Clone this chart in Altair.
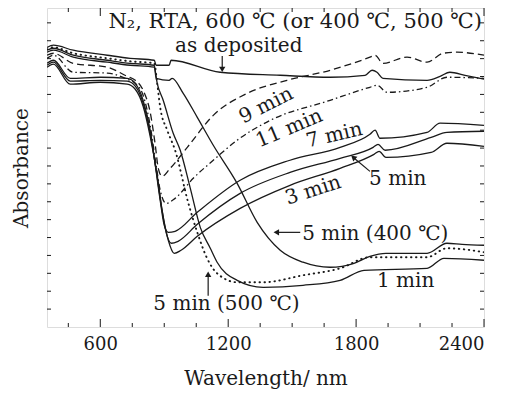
import altair as alt
import pandas as pd

FONT = "DejaVu Serif"
INK = "#1a1a1a"
W, H = 437, 319
X_DOMAIN = [350, 2400]
Y_DOMAIN = [0, 1.783]

# ---- curves (wavelength nm, absorbance a.u.) ----
ad_wl = [350, 380, 473, 633, 740, 853, 862, 923, 932, 1162, 1444, 1678, 1842, 1875, 1898, 1926, 2133, 2194, 2240, 2311, 2400]
ad_ab = [1.563, 1.575, 1.547, 1.519, 1.502, 1.491, 1.463, 1.463, 1.491, 1.424, 1.407, 1.396, 1.407, 1.435, 1.424, 1.390, 1.379, 1.401, 1.424, 1.407, 1.385]

m1_wl = [350, 380, 473, 633, 740, 853, 867, 895, 942, 975, 1022, 1069, 1116, 1148, 1242, 1364, 1551, 1725, 1837, 2133, 2212, 2400]
m1_ab = [1.536, 1.547, 1.508, 1.480, 1.463, 1.452, 1.362, 1.267, 1.083, 0.988, 0.776, 0.557, 0.440, 0.362, 0.261, 0.222, 0.233, 0.261, 0.317, 0.328, 0.384, 0.373]

m3_wl = [350, 380, 459, 600, 726, 764, 801, 834, 867, 890, 919, 947, 979, 1055, 1256, 1490, 1725, 1884, 1908, 1940, 2152, 2226, 2400]
m3_ab = [1.452, 1.469, 1.357, 1.368, 1.357, 1.329, 1.234, 1.066, 0.848, 0.652, 0.485, 0.412, 0.429, 0.507, 0.663, 0.792, 0.887, 0.965, 0.982, 0.948, 0.976, 1.027, 1.010]

m5_wl = [350, 380, 459, 600, 726, 764, 801, 834, 862, 886, 909, 933, 965, 1055, 1256, 1490, 1725, 1880, 1903, 1936, 2152, 2226, 2400]
m5_ab = [1.463, 1.480, 1.374, 1.379, 1.374, 1.346, 1.251, 1.083, 0.876, 0.680, 0.529, 0.468, 0.479, 0.574, 0.747, 0.864, 0.943, 1.004, 1.021, 0.988, 1.060, 1.088, 1.094]

m7_wl = [350, 380, 459, 600, 726, 764, 801, 834, 858, 881, 900, 919, 951, 1055, 1256, 1490, 1725, 1865, 1889, 1912, 2133, 2194, 2400]
m7_ab = [1.474, 1.491, 1.390, 1.396, 1.390, 1.362, 1.267, 1.100, 0.904, 0.708, 0.568, 0.529, 0.535, 0.641, 0.820, 0.932, 1.004, 1.077, 1.100, 1.055, 1.088, 1.139, 1.127]

m9_wl = [350, 380, 473, 633, 726, 764, 801, 834, 858, 872, 890, 928, 1008, 1130, 1289, 1476, 1678, 1865, 1889, 1926, 2039, 2133, 2208, 2273, 2400]
m9_ab = [1.519, 1.530, 1.474, 1.452, 1.401, 1.379, 1.323, 1.200, 1.016, 0.887, 0.842, 0.887, 1.004, 1.183, 1.306, 1.379, 1.435, 1.508, 1.519, 1.474, 1.508, 1.480, 1.530, 1.536, 1.519]

m11_wl = [350, 380, 473, 633, 726, 764, 801, 834, 862, 881, 909, 951, 1036, 1130, 1242, 1397, 1678, 1865, 1898, 1945, 2133, 2226, 2400]
m11_ab = [1.502, 1.519, 1.424, 1.419, 1.385, 1.362, 1.295, 1.127, 0.904, 0.764, 0.691, 0.719, 0.831, 0.932, 1.044, 1.155, 1.267, 1.340, 1.351, 1.312, 1.340, 1.396, 1.390]

t400_wl = [350, 380, 473, 633, 740, 853, 862, 923, 937, 989, 1055, 1130, 1242, 1336, 1444, 1551, 1678, 1790, 1865, 1940, 2133, 2226, 2297, 2400]
t400_ab = [1.547, 1.558, 1.519, 1.491, 1.474, 1.463, 1.390, 1.379, 1.390, 1.306, 1.172, 1.016, 0.803, 0.585, 0.429, 0.362, 0.334, 0.356, 0.395, 0.412, 0.412, 0.468, 0.462, 0.457]

t500_wl = [350, 380, 473, 633, 740, 853, 867, 881, 914, 951, 1012, 1055, 1101, 1148, 1242, 1364, 1551, 1725, 1865, 2133, 2226, 2400]
t500_ab = [1.552, 1.563, 1.530, 1.502, 1.485, 1.474, 1.362, 1.228, 1.100, 0.988, 0.697, 0.529, 0.384, 0.300, 0.250, 0.250, 0.289, 0.328, 0.390, 0.390, 0.440, 0.418]

# ---- ticks ----
x_major = [600, 1200, 1800, 2400]
x_minor = [450, 750, 900, 1050, 1350, 1500, 1650, 1950, 2100, 2250]
y_ticks = [0.1, 0.2, 0.3, 0.4, 0.5, 0.6, 0.7, 0.8, 0.9, 1.0, 1.1, 1.2, 1.3, 1.4, 1.5, 1.6, 1.7]

# ---- annotations ----
title_text = ["N\u2082, RTA, 600 \u2103 (or 400 \u2103, 500 \u2103)"]
title_x = [2390]
title_y = [1.670]

left_text = ["as deposited", "5 min", "5 min (400 \u2103)", "5 min (500 \u2103)", "1 min"]
left_x = [951, 1861, 1547, 849, 1898]
left_y = [1.536, 0.792, 0.489, 0.093, 0.222]

rot_text = ["9 min", "11 min", "7 min", "3 min"]
rot_x = [1378, 1486, 1698, 1599]
rot_y = [1.239, 1.110, 1.072, 0.764]
rot_angle = [333, 337, 347, 342]

# arrows: shafts (x1, y1, x2, y2) and heads (x, y, angle)
shaft_x1 = [1172, 1865, 1538, 1106]
shaft_y1 = [1.515, 0.870, 0.529, 0.175]
shaft_x2 = [1172, 1790, 1425, 1106]
shaft_y2 = [1.445, 0.945, 0.529, 0.290]
head_x = [1172, 1790, 1430, 1106]
head_y = [1.445, 0.945, 0.529, 0.290]
head_angle = [180, 311, 270, 0]

xs = alt.Scale(domain=X_DOMAIN, nice=False, zero=False)
ys = alt.Scale(domain=Y_DOMAIN, nice=False, zero=False)
xaxis = alt.Axis(values=x_major, format="d", ticks=False, domain=False, grid=False,
                 labelFont=FONT, labelFontSize=18, labelColor=INK, labelPadding=8,
                 title="Wavelength/ nm", titleFont=FONT, titleFontSize=20,
                 titleFontWeight="normal", titleColor=INK, titlePadding=15)
yaxis = alt.Axis(labels=False, ticks=False, domain=False, grid=False,
                 title="Absorbance", titleFont=FONT, titleFontSize=20,
                 titleFontWeight="normal", titleColor=INK, titlePadding=16)


def X(f):
    return alt.X(f, type="quantitative", scale=xs, axis=xaxis)


def Y(f):
    return alt.Y(f, type="quantitative", scale=ys, axis=yaxis)


def curve(wl, ab, dash=None, cap="butt", width=1.3):
    df = pd.DataFrame({"wl": wl, "ab": ab})
    kw = dict(stroke=INK, strokeWidth=width, interpolate="monotone", clip=True, strokeCap=cap)
    if dash is not None:
        kw["strokeDash"] = dash
    return alt.Chart(df).mark_line(**kw).encode(x=X("wl"), y=Y("ab"))


layers = [
    curve(ad_wl, ad_ab),
    curve(m1_wl, m1_ab),
    curve(m3_wl, m3_ab),
    curve(m5_wl, m5_ab),
    curve(m7_wl, m7_ab),
    curve(t400_wl, t400_ab),
    curve(t500_wl, t500_ab, dash=[0.5, 4.5], cap="round", width=1.9),
    curve(m9_wl, m9_ab, dash=[7, 4]),
    curve(m11_wl, m11_ab, dash=[6, 3, 1.5, 3]),
]


# tick marks (inward, on all four sides)
def xticks(vals, length):
    df = pd.DataFrame({"t": vals})
    base = alt.Chart(df).mark_rule(color=INK, strokeWidth=1)
    return [
        base.encode(x=X("t"), y=alt.value(H), y2=alt.value(H - length)),
        base.encode(x=X("t"), y=alt.value(0), y2=alt.value(length)),
    ]


layers += xticks(x_major, 8)
layers += xticks(x_minor, 4)
ydf = pd.DataFrame({"t": y_ticks})
ybase = alt.Chart(ydf).mark_rule(color=INK, strokeWidth=1)
layers.append(ybase.encode(y=Y("t"), x=alt.value(0), x2=alt.value(4)))
layers.append(ybase.encode(y=Y("t"), x=alt.value(W - 4), x2=alt.value(W)))

# text
layers.append(
    alt.Chart(pd.DataFrame({"x": title_x, "y": title_y, "t": title_text}))
    .mark_text(font=FONT, fontSize=21, color=INK, align="right", baseline="alphabetic")
    .encode(x=X("x"), y=Y("y"), text="t:N")
)
layers.append(
    alt.Chart(pd.DataFrame({"x": left_x, "y": left_y, "t": left_text}))
    .mark_text(font=FONT, fontSize=20, color=INK, align="left", baseline="alphabetic")
    .encode(x=X("x"), y=Y("y"), text="t:N")
)
layers.append(
    alt.Chart(pd.DataFrame({"x": rot_x, "y": rot_y, "t": rot_text, "a": rot_angle}))
    .mark_text(font=FONT, fontSize=20, color=INK, align="center", baseline="middle")
    .encode(x=X("x"), y=Y("y"), text="t:N", angle=alt.Angle("a:Q", scale=None))
)

# arrows
layers.append(
    alt.Chart(pd.DataFrame({"x1": shaft_x1, "y1": shaft_y1, "x2": shaft_x2, "y2": shaft_y2}))
    .mark_rule(color=INK, strokeWidth=1.2)
    .encode(x=X("x1"), y=Y("y1"), x2="x2:Q", y2="y2:Q")
)
layers.append(
    alt.Chart(pd.DataFrame({"x": head_x, "y": head_y, "a": head_angle}))
    .mark_point(shape="triangle", filled=True, size=40, color=INK, opacity=1)
    .encode(x=X("x"), y=Y("y"), angle=alt.Angle("a:Q", scale=None))
)

chart = (
    alt.layer(*layers)
    .properties(width=W, height=H,
                padding={"left": 39, "top": 0, "right": 12, "bottom": 66},
                autosize=alt.AutoSizeParams(type="none"))
    .configure_view(stroke=INK, strokeWidth=1.2)
    .configure(background="white")
)

chart.save("out.html", embed_options={"renderer": "svg", "actions": False})
